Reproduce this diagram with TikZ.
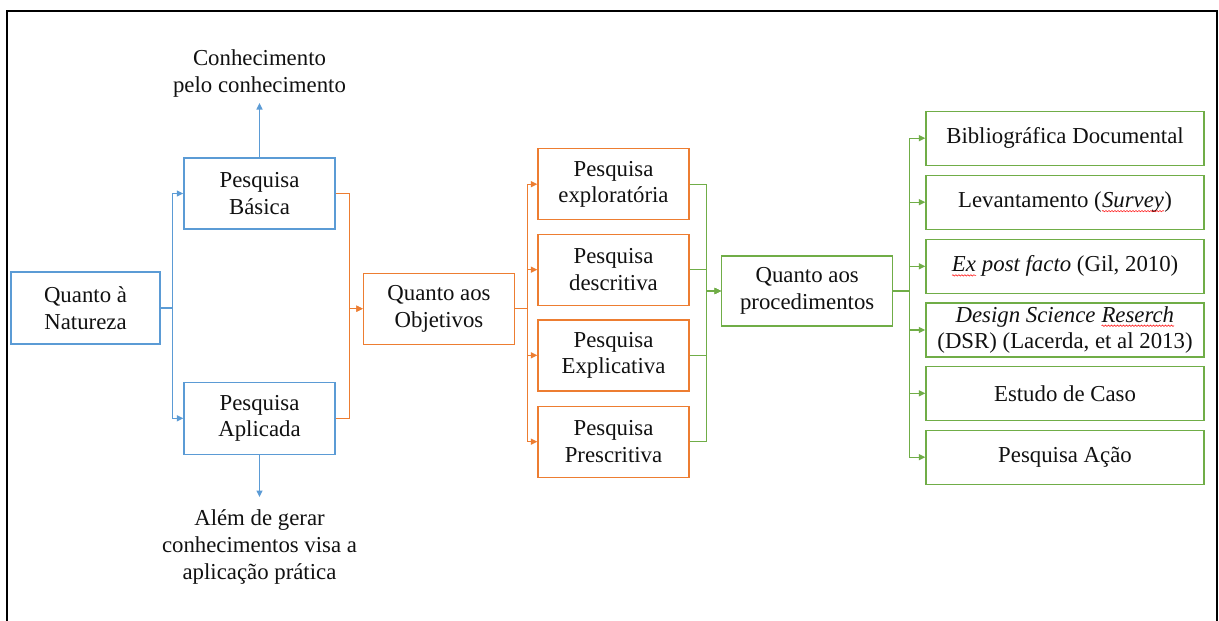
\documentclass[tikz,border=0pt]{standalone}
\usepackage{fontspec}
\setmainfont{Liberation Serif}
\usetikzlibrary{arrows.meta,decorations.pathmorphing}

\definecolor{oblue}{HTML}{5B9BD5}
\definecolor{oorange}{HTML}{ED7D31}
\definecolor{ogreen}{HTML}{70AD47}
\definecolor{txt}{HTML}{111111}

% red wavy underline as left by a spell checker
\newcommand\spellerr[1]{\tikz[baseline=(sw.base)]{%
  \node[inner sep=0pt,outer sep=0pt,text=txt,draw=none,minimum size=0pt](sw){#1};
  \draw[red,line width=0.5pt,decorate,decoration={snake,amplitude=0.7pt,segment length=3pt}]
    ([yshift=-3.5pt]sw.base west) -- ([yshift=-3.5pt]sw.base east);}}

\tikzset{
  box/.style={draw,line width=1.4pt,fill=white,align=center,text=txt,
    font=\fontsize{22.8}{26.5}\selectfont,inner sep=0pt},
  bbox/.style={box,draw=oblue,minimum width=150pt,minimum height=71pt},
  obox/.style={box,draw=oorange,minimum width=151pt,minimum height=71pt},
  gbox/.style={box,draw=ogreen},
  pbox/.style={gbox,minimum width=278pt,minimum height=54pt},
  note/.style={align=center,text=txt,font=\fontsize{22.8}{27}\selectfont,inner sep=0pt},
  conn/.style={line width=1.4pt,-{Triangle[length=6.5pt,width=6pt]}},
  bconn/.style={conn,draw=oblue},
  oconn/.style={conn,draw=oorange},
  gconn/.style={conn,draw=ogreen},
}

\begin{document}
\begin{tikzpicture}[x=1pt,y=-1pt]
\useasboundingbox (0,0) rectangle (1219,621);
\fill[white] (0,0) rectangle (1219,621);

% open frame
\draw[line width=2pt,line join=miter] (7,621) -- (7,11) -- (1217,11) -- (1217,621);

% nature of the research
\node[bbox,minimum width=149pt,minimum height=72pt] (nat) at (85.5,308) {Quanto à\\Natureza};
\node[bbox,minimum width=151pt] (bas) at (259.5,193.5) {Pesquisa\\Básica};
\node[bbox,minimum width=151pt,minimum height=72pt] (apl) at (259.5,418.3) {Pesquisa\\Aplicada};
\node[note] (tnote) at (259.5,73.5) {Conhecimento\\pelo conhecimento};
\node[note] (bnote) at (259.5,547) {Além de gerar\\conhecimentos visa a\\aplicação prática};
\coordinate (upend) at (259.5,103);
\coordinate (downend) at (259.5,497);

% objectives
\node[obox] (obj) at (439,308.7) {Quanto aos\\Objetivos};
\node[obox] (exl) at (613.5,184.2) {Pesquisa\\exploratória};
\node[obox] (des) at (613.5,269.7) {Pesquisa\\descritiva};
\node[obox] (exa) at (613.5,355.3) {Pesquisa\\Explicativa};
\node[obox] (pre) at (613.5,441.7) {Pesquisa\\Prescritiva};

% procedures
\node[gbox,minimum width=171pt,minimum height=70pt] (proc) at (807.2,291) {Quanto aos\\procedimentos};
\node[pbox] (p1) at (1065,138.2) {Bibliográfica Documental};
\node[pbox] (p2) at (1065,202.2) {Levantamento (\spellerr{\textit{Survey}})};
\node[pbox] (p3) at (1065,266.3) {\textit{\spellerr{Ex} post facto} (Gil, 2010)};
\node[pbox] (p4) at (1065,330) {\textit{Design Science \spellerr{Reserch}}\\(DSR) (Lacerda, et al 2013)};
\node[pbox] (p5) at (1065,393.3) {Estudo de Caso};
\node[pbox] (p6) at (1065,457.2) {Pesquisa Ação};

% blue connectors
\draw[bconn] (nat.east) -- ++(11.5,0) |- (bas.west);
\draw[bconn] (nat.east) -- ++(11.5,0) |- (apl.west);
\draw[bconn] (bas.north) -- (upend);
\draw[bconn] (apl.south) -- (downend);

% orange connectors
\draw[oconn] (bas.east) -- ++(14,0) |- (obj.west);
\draw[oconn] (apl.east) -- ++(14,0) |- (obj.west);
\foreach \t in {exl,des,exa,pre}
  \draw[oconn] (obj.east) -- ++(12.5,0) |- (\t.west);

% green connectors
\foreach \s in {exl,des,exa,pre}
  \draw[gconn] (\s.east) -- ++(17,0) |- (proc.west);
\foreach \t in {p1,p2,p3,p4,p5,p6}
  \draw[gconn] (proc.east) -- ++(16,0) |- (\t.west);
\end{tikzpicture}
\end{document}
